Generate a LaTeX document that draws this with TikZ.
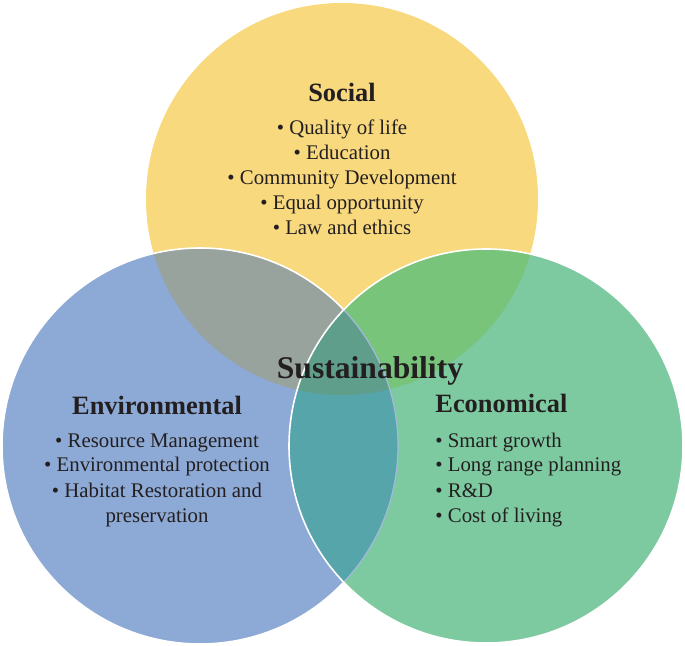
\documentclass[tikz,border=0pt]{standalone}
\usepackage{fontspec}
\setmainfont{Liberation Serif}
\usetikzlibrary{positioning}

\definecolor{ink}{HTML}{231F20}
\definecolor{socfill}{HTML}{F8D97E}
\definecolor{envfill}{HTML}{8DA9D5}
\definecolor{ecofill}{HTML}{7DC9A0}
\definecolor{sefill}{HTML}{97A39C}
\definecolor{scfill}{HTML}{78C47A}
\definecolor{ecfill}{HTML}{55A5AA}
\definecolor{allfill}{HTML}{5E9E8A}

\begin{document}
\begin{tikzpicture}[x=0.5pt, y=-0.5pt,
  head/.style={font=\fontsize{13.2}{16}\selectfont\bfseries, text=ink, inner sep=0pt, anchor=base},
  bighead/.style={font=\fontsize{15.8}{19}\selectfont\bfseries, text=ink, inner sep=0pt, anchor=base},
  items/.style={font=\fontsize{10.4}{12.5}\selectfont, text=ink, inner sep=0pt, anchor=base},
  rim/.style={draw=white, line width=0.8pt}]
\useasboundingbox (0,0) rectangle (685,646);

\coordinate (soc) at (342,199);
\coordinate (env) at (200,446);
\coordinate (eco) at (486,446);

% circles and their overlaps
\fill[socfill] (soc) circle[radius=98pt];
\fill[envfill] (env) circle[radius=99pt];
\begin{scope}
  \clip (soc) circle[radius=98pt];
  \fill[sefill] (env) circle[radius=99pt];
\end{scope}
\draw[rim] (env) circle[radius=99pt];
\fill[ecofill] (eco) circle[radius=98.5pt];
\begin{scope}
  \clip (soc) circle[radius=98pt];
  \fill[scfill] (eco) circle[radius=98.5pt];
\end{scope}
\begin{scope}
  \clip (env) circle[radius=99pt];
  \fill[ecfill] (eco) circle[radius=98.5pt];
  \clip (soc) circle[radius=98pt];
  \fill[allfill] (eco) circle[radius=98.5pt];
\end{scope}
\begin{scope}
  \clip (eco) circle[radius=98.5pt];
  \draw[envfill!80!white, line width=0.6pt] (env) circle[radius=99pt];
\end{scope}
\draw[rim] (eco) circle[radius=98.5pt];

% texts (lists sit on the baseline of their last line)
\node[head] (social) at (342,102) {Social};
\node[items, align=center] (sociallist) at (342,235)
  {• Quality of life\\• Education\\• Community Development\\• Equal opportunity\\• Law and ethics};
\node[head] (environ) at (157,415) {Environmental};
\node[items, align=center] (environlist) at (157,522)
  {• Resource Management\\• Environmental protection\\• Habitat Restoration and\\preservation};
\node[head, anchor=base west] (econ) at (435,413) {Economical};
\node[items, align=left, anchor=base west] (econlist) at (435,522)
  {• Smart growth\\• Long range planning\\• R\&D\\• Cost of living};
\node[bighead] (sustain) at (370,379) {Sustainability};
\end{tikzpicture}
\end{document}
